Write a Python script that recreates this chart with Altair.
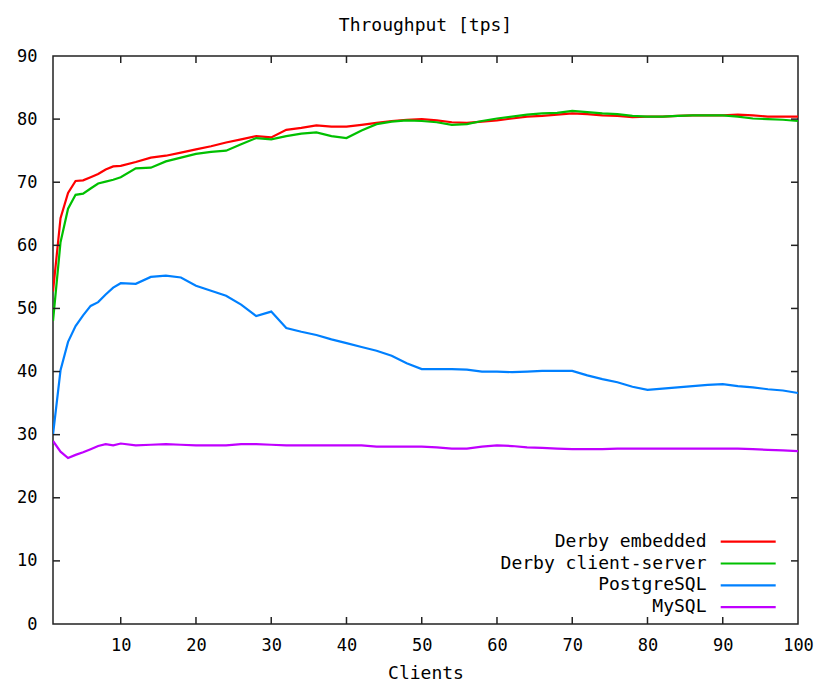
import altair as alt
import pandas as pd

clients = [1, 2, 3, 4, 5, 6, 7, 8, 9, 10, 12, 14, 16, 18, 20, 22, 24, 26, 28, 30,
           32, 34, 36, 38, 40, 42, 44, 46, 48, 50, 52, 54, 56, 58, 60, 62, 64, 66, 68, 70,
           72, 74, 76, 78, 80, 82, 84, 86, 88, 90, 92, 94, 96, 98, 100]

derby_embedded = [52.7, 64.3, 68.3, 70.2, 70.3, 70.8, 71.3, 72.0, 72.5, 72.6,
                  73.2, 73.9, 74.2, 74.7, 75.2, 75.7, 76.3, 76.8, 77.3, 77.1,
                  78.3, 78.6, 79.0, 78.8, 78.8, 79.1, 79.4, 79.7, 79.9, 80.0,
                  79.8, 79.5, 79.4, 79.6, 79.8, 80.1, 80.4, 80.5, 80.7, 80.9,
                  80.8, 80.6, 80.5, 80.3, 80.4, 80.4, 80.5, 80.6, 80.6, 80.6,
                  80.7, 80.6, 80.4, 80.4, 80.4]

derby_client_server = [48.0, 60.5, 65.8, 68.0, 68.2, 69.0, 69.8, 70.1, 70.4, 70.8,
                       72.2, 72.3, 73.3, 73.9, 74.5, 74.8, 75.0, 76.0, 77.0, 76.8,
                       77.3, 77.7, 77.9, 77.3, 77.0, 78.2, 79.2, 79.6, 79.8, 79.7,
                       79.5, 79.1, 79.2, 79.7, 80.1, 80.4, 80.7, 80.9, 81.0, 81.3,
                       81.1, 80.9, 80.8, 80.5, 80.4, 80.4, 80.5, 80.6, 80.6, 80.6,
                       80.4, 80.1, 80.0, 79.9, 79.7]

postgresql = [30.0, 40.2, 44.7, 47.2, 48.9, 50.4, 51.0, 52.2, 53.3, 54.0,
              53.9, 55.0, 55.2, 54.9, 53.6, 52.8, 52.0, 50.6, 48.8, 49.5,
              46.9, 46.3, 45.8, 45.1, 44.5, 43.9, 43.3, 42.5, 41.3, 40.4,
              40.4, 40.4, 40.3, 40.0, 40.0, 39.9, 40.0, 40.1, 40.1, 40.1,
              39.4, 38.8, 38.3, 37.6, 37.1, 37.3, 37.5, 37.7, 37.9, 38.0,
              37.7, 37.5, 37.2, 37.0, 36.6]

mysql = [29.0, 27.3, 26.3, 26.8, 27.2, 27.7, 28.2, 28.5, 28.3, 28.6,
         28.3, 28.4, 28.5, 28.4, 28.3, 28.3, 28.3, 28.5, 28.5, 28.4,
         28.3, 28.3, 28.3, 28.3, 28.3, 28.3, 28.1, 28.1, 28.1, 28.1,
         28.0, 27.8, 27.8, 28.1, 28.3, 28.2, 28.0, 27.9, 27.8, 27.7,
         27.7, 27.7, 27.8, 27.8, 27.8, 27.8, 27.8, 27.8, 27.8, 27.8,
         27.8, 27.7, 27.6, 27.5, 27.4]

series_names = ["Derby embedded", "Derby client-server", "PostgreSQL", "MySQL"]
series_colors = ["#ff0000", "#00c000", "#0080ff", "#c000ff"]
x_ticks = [10, 20, 30, 40, 50, 60, 70, 80, 90, 100]
y_ticks = [0, 10, 20, 30, 40, 50, 60, 70, 80, 90]

FONT = "DejaVu Sans Mono"
W, H = 745, 568
TICK = 7
FRAME = "#222222"

rows = []
for name, vals in zip(series_names, [derby_embedded, derby_client_server, postgresql, mysql]):
    for c, v in zip(clients, vals):
        rows.append({"clients": c, "tps": v, "series": name})
df = pd.DataFrame(rows)

axis_style = dict(labelFont=FONT, labelFontSize=17, labelColor="#000000", labelFlush=False,
                  titleFont=FONT, titleFontSize=18, titleFontWeight="normal",
                  titleColor="#000000", domain=False, ticks=False, tickSize=0, grid=False)

xscale = alt.Scale(domain=[1, 100], nice=False, zero=False)
yscale = alt.Scale(domain=[0, 90], nice=False, zero=False)
xaxis = alt.Axis(values=x_ticks, title="Clients", labelPadding=13, titlePadding=11, **axis_style)
yaxis = alt.Axis(values=y_ticks, title=None, labelPadding=16, **axis_style)

lines = alt.Chart(df).mark_line(strokeWidth=2.2, clip=True).encode(
    x=alt.X("clients:Q", scale=xscale, axis=xaxis),
    y=alt.Y("tps:Q", scale=yscale, axis=yaxis),
    color=alt.Color("series:N", scale=alt.Scale(domain=series_names, range=series_colors),
                    legend=None),
)

xt = pd.DataFrame({"clients": x_ticks[:-1]})
yt = pd.DataFrame({"tps": y_ticks[1:-1]})

tick_bottom = alt.Chart(xt).mark_rule(color=FRAME, strokeWidth=1.5).encode(
    x=alt.X("clients:Q", scale=xscale, axis=xaxis), y=alt.value(H), y2=alt.value(H - TICK))
tick_top = alt.Chart(xt).mark_rule(color=FRAME, strokeWidth=1.5).encode(
    x=alt.X("clients:Q", scale=xscale, axis=xaxis), y=alt.value(0), y2=alt.value(TICK))
tick_left = alt.Chart(yt).mark_rule(color=FRAME, strokeWidth=1.5).encode(
    y=alt.Y("tps:Q", scale=yscale, axis=yaxis), x=alt.value(0), x2=alt.value(TICK))
tick_right = alt.Chart(yt).mark_rule(color=FRAME, strokeWidth=1.5).encode(
    y=alt.Y("tps:Q", scale=yscale, axis=yaxis), x=alt.value(W), x2=alt.value(W - TICK))

legend_layers = []
for i, (name, col) in enumerate(zip(series_names, series_colors)):
    ly = 485.7 + 21.8 * i
    ld = pd.DataFrame({"series": [name]})
    legend_layers.append(
        alt.Chart(ld).mark_text(align="right", baseline="middle", font=FONT, fontSize=18,
                                color="#000000").encode(
            text="series:N", x=alt.value(653.5), y=alt.value(ly)))
    legend_layers.append(
        alt.Chart(ld).mark_rule(strokeWidth=2.2, color=col).encode(
            x=alt.value(667.7), x2=alt.value(722.7), y=alt.value(ly)))

chart = alt.layer(lines, tick_bottom, tick_top, tick_left, tick_right, *legend_layers).properties(
    width=W, height=H,
    title=alt.TitleParams("Throughput [tps]", font=FONT, fontSize=18, fontWeight="normal",
                          anchor="middle", offset=12, color="#000000"),
    autosize=alt.AutoSizeParams(type="none"),
    padding={"left": 45, "top": 48, "right": 21, "bottom": 59},
).configure(
    background="#ffffff"
).configure_view(
    stroke=FRAME, strokeWidth=1.5
)

chart.save("out.html", embed_options={"renderer": "svg", "actions": False})
